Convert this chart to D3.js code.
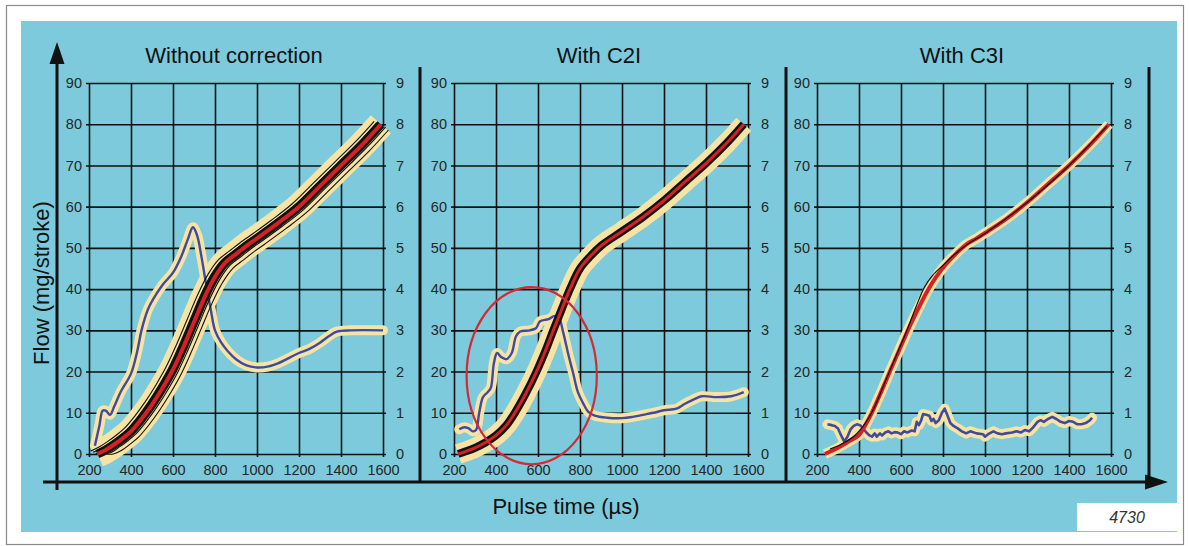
<!DOCTYPE html>
<html>
<head>
<meta charset="utf-8">
<script src="https://cdn.jsdelivr.net/npm/d3@7"></script>
<style>
  html, body { margin: 0; padding: 0; background: #ffffff; }
  svg { display: block; }
  text { font-family: "Liberation Sans", Arial, Helvetica, sans-serif; }
</style>
</head>
<body>
<svg id="chart" width="1189" height="546"></svg>
<script>
// ---------------- DATA ----------------
const panelTitles = ["Without correction", "With C2I", "With C3I"];
const pulseTicks = [200, 400, 600, 800, 1000, 1200, 1400, 1600];
const flowTicks = [0, 10, 20, 30, 40, 50, 60, 70, 80, 90];
const deviationTicks = [0, 1, 2, 3, 4, 5, 6, 7, 8, 9];
const yAxisLabel = "Flow (mg/stroke)";
const xAxisLabel = "Pulse time (µs)";
const figureNumber = "4730";

// Panel 1 – without correction: mean flow (mg/stroke) vs pulse time (µs)
const flowUncorrected = [[240,0],[280,1],[320,2.3],[360,3.8],[400,5.5],[450,8.5],[500,12],[550,16],[600,20.5],[650,26],[700,32],[750,38],[800,43],[850,46.5],[900,48.5],[950,50.5],[1000,52.3],[1100,56],[1200,60],[1300,65],[1400,70],[1500,75],[1590,80]];
// Injector spread: [pulse-time shift µs, flow shift mg] of individual injector curves
const injectorShifts = [[-32, 0.7], [-20, 0.4], [-9, 0], [10, -0.3], [22, -0.7], [36, -1.4]];
// Panel 1 – deviation (right axis)
const devUncorrected = [[228,0.2],[250,0.7],[265,1.05],[280,1.05],[300,0.95],[320,1.15],[350,1.5],[400,1.95],[430,2.5],[450,3.0],[480,3.5],[505,3.75],[550,4.1],[600,4.4],[640,4.8],[670,5.2],[695,5.5],[715,5.3],[735,4.8],[755,4.2],[780,3.5],[800,3.0],[830,2.7],[860,2.5],[900,2.3],[950,2.15],[1000,2.1],[1050,2.12],[1100,2.2],[1200,2.45],[1250,2.55],[1300,2.7],[1340,2.85],[1380,2.97],[1450,3.0],[1600,3.0]];

// Panel 2 – with C2I
const flowC2I = [[220,0],[260,0.7],[300,1.5],[350,2.8],[400,4.5],[450,7],[490,10],[540,14.5],[593,20],[635,25],[673,30],[712,35],[752,40],[800,45],[850,48],[900,50.5],[1000,54],[1100,57.5],[1200,61.5],[1300,66],[1400,70.5],[1500,75.5],[1580,80]];
const devC2I = [[225,0.6],[250,0.65],[270,0.62],[290,0.55],[305,0.58],[320,1.0],[338,1.38],[360,1.5],[375,1.6],[390,2.2],[405,2.45],[425,2.35],[450,2.3],[475,2.45],[495,2.85],[515,2.97],[560,3.0],[590,3.05],[610,3.22],[650,3.27],[680,3.35],[700,3.3],[720,2.95],[745,2.4],[767,1.97],[790,1.5],[814,1.24],[840,1.02],[870,0.93],[930,0.88],[1000,0.87],[1050,0.9],[1100,0.95],[1150,1.0],[1200,1.06],[1260,1.1],[1300,1.22],[1340,1.32],[1380,1.4],[1450,1.38],[1520,1.4],[1580,1.5]];
// Highlight ellipse in panel 2: centre [µs, flow], radii [µs, flow]
const highlightCentre = [570, 19];
const highlightRadii = [310, 21.5];

// Panel 3 – with C3I
const flowC3I = [[238,0],[300,1.5],[350,3],[400,4.6],[430,7],[461,10],[505,15],[547,20],[590,25],[633,30],[680,35],[725,39.5],[765,42.8],[810,45.8],[860,48.5],[910,50.8],[960,52.3],[1000,53.6],[1100,57],[1200,61],[1300,65.5],[1400,70],[1500,75],[1590,80]];
const flowC3IRef = [[262,1.2],[320,2.5],[380,4.5],[430,7.5],[470,11],[520,17],[570,23],[620,29],[670,35.5],[710,40.3],[750,43.3],[800,45.8],[850,48.2],[920,51],[1000,53.5],[1200,61],[1400,70],[1580,79.5]];
const devC3I = [[250,0.72],[270,0.7],[285,0.68],[300,0.62],[315,0.45],[330,0.3],[345,0.42],[360,0.6],[375,0.68],[390,0.72],[405,0.7],[420,0.62],[435,0.52],[450,0.45],[462,0.42],[475,0.5],[485,0.42],[500,0.5],[510,0.45],[525,0.52],[540,0.55],[555,0.5],[570,0.53],[585,0.52],[600,0.48],[615,0.55],[630,0.52],[650,0.57],[665,0.55],[675,0.78],[685,0.7],[695,0.8],[705,0.97],[720,0.95],[735,0.93],[745,0.8],[755,0.85],[765,0.75],[780,0.82],[795,1.0],[808,1.1],[820,0.95],[835,0.75],[850,0.68],[870,0.62],[890,0.55],[910,0.5],[930,0.55],[960,0.5],[990,0.48],[1000,0.42],[1015,0.48],[1040,0.55],[1060,0.5],[1080,0.48],[1100,0.5],[1130,0.52],[1150,0.55],[1170,0.52],[1190,0.58],[1210,0.55],[1230,0.65],[1250,0.78],[1265,0.82],[1280,0.78],[1300,0.85],[1320,0.9],[1340,0.85],[1360,0.78],[1380,0.75],[1400,0.8],[1420,0.78],[1440,0.72],[1460,0.72],[1480,0.75],[1500,0.82],[1510,0.88]];

// ---------------- STYLE / LAYOUT ----------------
const C = {
  bg: "#7ccadc", halo: "#f7e3a3", red: "#d81f26", blue: "#3f4aa0",
  ink: "#111111", label: "#262626"
};
const panelLeft = [89, 454, 817];
const plotW = 294, yTop = 83, yBottom = 454;

const svg = d3.select("#chart");

// frame
svg.append("rect").attr("x", 6.5).attr("y", 5.5).attr("width", 1177).attr("height", 539)
  .attr("fill", "#fff").attr("stroke", "#8a8a8a").attr("stroke-width", 1.2);
svg.append("rect").attr("x", 21).attr("y", 21).attr("width", 1156).attr("height", 511).attr("fill", C.bg);

const yFlow = d3.scaleLinear().domain([0, 90]).range([yBottom, yTop]);
const yDev = d3.scaleLinear().domain([0, 9]).range([yBottom, yTop]);

const panels = [
  { title: panelTitles[0], flow: flowUncorrected, dev: devUncorrected, kind: "spread" },
  { title: panelTitles[1], flow: flowC2I, dev: devC2I, kind: "thick" },
  { title: panelTitles[2], flow: flowC3I, ref: flowC3IRef, dev: devC3I, kind: "thin" }
];

panels.forEach((p, i) => {
  const x0 = panelLeft[i];
  const x = d3.scaleLinear().domain([200, 1600]).range([x0, x0 + plotW]);
  const g = svg.append("g");

  // vertical grid + bottom labels
  const xa = g.append("g").attr("transform", `translate(0,${yBottom + 3})`)
    .call(d3.axisBottom(x).tickValues(pulseTicks).tickSizeInner(-(yBottom + 3 - yTop)).tickSizeOuter(0).tickPadding(8).tickFormat(d3.format("d")));
  xa.select(".domain").remove();
  xa.selectAll("line").attr("stroke", C.ink).attr("stroke-width", 1.6);
  xa.selectAll("text").attr("fill", C.label).style("font-size", "14.5px").attr("font-family", null);

  // horizontal grid + left labels
  const ya = g.append("g").attr("transform", `translate(${x0 - 3},0)`)
    .call(d3.axisLeft(yFlow).tickValues(flowTicks).tickSizeInner(-(plotW + 6)).tickSizeOuter(0).tickPadding(4));
  ya.select(".domain").remove();
  ya.selectAll("line").attr("stroke", C.ink).attr("stroke-width", 1.6);
  ya.selectAll("text").attr("fill", C.label).style("font-size", "14.5px").attr("font-family", null);

  // right labels
  const ra = g.append("g").attr("transform", `translate(${x0 + plotW + 3},0)`)
    .call(d3.axisRight(yDev).tickValues(deviationTicks).tickSize(0).tickPadding(10));
  ra.select(".domain").remove();
  ra.selectAll("text").attr("fill", C.label).style("font-size", "14.5px").attr("font-family", null);

  // title
  g.append("text").attr("x", x0 + plotW / 2 - 2).attr("y", 63).attr("text-anchor", "middle")
    .attr("fill", "#111").style("font-size", "22px").text(p.title);

  const lineF = d3.line().x(d => x(d[0])).y(d => yFlow(d[1])).curve(d3.curveCatmullRom.alpha(0.5));
  const lineD = d3.line().x(d => x(d[0])).y(d => yDev(d[1]))
    .curve(p.kind === "thin" ? d3.curveLinear : d3.curveCatmullRom.alpha(0.5));

  const clipId = "clip" + i;
  svg.append("clipPath").attr("id", clipId).append("rect")
    .attr("x", x0 - 12).attr("y", yTop - 14).attr("width", plotW + 24).attr("height", yBottom - yTop + 26);
  const d = g.append("g").attr("clip-path", `url(#${clipId})`);

  const haloW = p.kind === "spread" ? 27 : p.kind === "thick" ? 20 : 10;
  // halos
  d.append("path").attr("d", lineF(p.flow)).attr("fill", "none").attr("stroke", C.halo)
    .attr("stroke-width", haloW).attr("stroke-linejoin", "round").attr("stroke-linecap", "butt");
  d.append("path").attr("d", lineD(p.dev)).attr("fill", "none").attr("stroke", C.halo)
    .attr("stroke-width", 10).attr("stroke-linejoin", "round").attr("stroke-linecap", "round");

  // deviation line
  d.append("path").attr("d", lineD(p.dev)).attr("fill", "none").attr("stroke", C.blue)
    .attr("stroke-width", p.kind === "thin" ? 2.6 : 2.4).attr("stroke-linejoin", "round");

  // flow lines
  if (p.kind === "spread") {
    d.append("path").attr("d", lineF(p.flow)).attr("fill", "none").attr("stroke", C.ink).attr("stroke-width", 9);
    injectorShifts.forEach(s => {
      const shifted = p.flow.map(q => [q[0] + s[0], Math.max(0, q[1] + s[1])]);
      d.append("path").attr("d", lineF(shifted)).attr("fill", "none").attr("stroke", C.ink).attr("stroke-width", 1.1);
    });
    d.append("path").attr("d", lineF(p.flow)).attr("fill", "none").attr("stroke", C.red).attr("stroke-width", 4);
  } else if (p.kind === "thick") {
    d.append("path").attr("d", lineF(p.flow)).attr("fill", "none").attr("stroke", C.ink).attr("stroke-width", 8);
    d.append("path").attr("d", lineF(p.flow)).attr("fill", "none").attr("stroke", C.red).attr("stroke-width", 3);
  } else {
    d.append("path").attr("d", lineF(p.flow)).attr("fill", "none").attr("stroke", C.red).attr("stroke-width", 4);
    d.append("path").attr("d", lineF(p.ref)).attr("fill", "none").attr("stroke", C.ink).attr("stroke-width", 1.2);
  }

  if (i === 1) {
    g.append("ellipse")
      .attr("cx", x(highlightCentre[0])).attr("cy", yFlow(highlightCentre[1]))
      .attr("rx", x(highlightCentre[0] + highlightRadii[0]) - x(highlightCentre[0]))
      .attr("ry", yFlow(0) - yFlow(highlightRadii[1]))
      .attr("fill", "none").attr("stroke", "#d42a34").attr("stroke-width", 2.2);
  }
});

// separators
[420, 786, 1149].forEach(sx => {
  svg.append("line").attr("x1", sx).attr("x2", sx).attr("y1", 67).attr("y2", 482)
    .attr("stroke", C.ink).attr("stroke-width", 3);
});

// main axes with arrows
svg.append("line").attr("x1", 43).attr("x2", 1150).attr("y1", 482).attr("y2", 482)
  .attr("stroke", C.ink).attr("stroke-width", 3);
svg.append("path").attr("d", "M1168,482 L1145,474.5 L1145,489.5 Z").attr("fill", C.ink);
svg.append("line").attr("x1", 57).attr("x2", 57).attr("y1", 490).attr("y2", 60)
  .attr("stroke", C.ink).attr("stroke-width", 3);
svg.append("path").attr("d", "M57,42 L49.5,64 L64.5,64 Z").attr("fill", C.ink);

// axis titles
svg.append("text").attr("transform", "translate(49,283) rotate(-90)").attr("text-anchor", "middle")
  .attr("fill", "#111").style("font-size", "22px").text(yAxisLabel);
svg.append("text").attr("x", 566).attr("y", 514).attr("text-anchor", "middle")
  .attr("fill", "#111").style("font-size", "22px").text(xAxisLabel);

// figure number box
svg.append("rect").attr("x", 1077).attr("y", 503).attr("width", 100).attr("height", 28).attr("fill", "#fff");
svg.append("text").attr("x", 1127).attr("y", 523).attr("text-anchor", "middle")
  .attr("fill", "#333").style("font-size", "16px").style("font-style", "italic").text(figureNumber);
</script>
</body>
</html>
